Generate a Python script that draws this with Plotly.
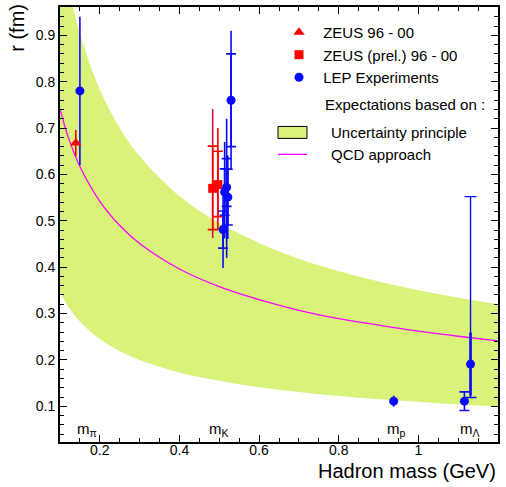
import plotly.graph_objects as go

# ---- expectation curves, sampled in hadron mass (GeV) ----
mass_grid = [0.10, 0.12, 0.15, 0.20, 0.25, 0.30, 0.40, 0.50, 0.60, 0.70, 0.80, 0.90, 1.00, 1.10, 1.20]
band_upper = [1.107, 1.010, 0.904, 0.783, 0.700, 0.639, 0.553, 0.495, 0.452, 0.418, 0.391, 0.369, 0.350, 0.334, 0.320]
band_lower = [0.346, 0.316, 0.283, 0.245, 0.219, 0.200, 0.173, 0.155, 0.141, 0.131, 0.122, 0.115, 0.110, 0.104, 0.100]
qcd_r = [0.741, 0.682, 0.617, 0.542, 0.490, 0.451, 0.396, 0.358, 0.330, 0.307, 0.289, 0.275, 0.262, 0.251, 0.241]

# ---- ZEUS 96-00 (pion) ----
zeus_m = [0.1396]
zeus_r = [0.668]
zeus_err = [0.028]

# ---- ZEUS (prel.) 96-00 (kaon) ----
zprel_m = [0.4835, 0.4965]
zprel_r = [0.570, 0.578]
zprel_stat_up = [0.091, 0.072]
zprel_stat_dn = [0.089, 0.069]
zprel_tot_up = [0.171, 0.122]
zprel_tot_dn = [0.107, 0.098]

# ---- LEP experiments ----
lep_m = [0.150, 0.5095, 0.5135, 0.5185, 0.5215, 0.5296, 0.938, 1.1157, 1.131]
lep_r = [0.780, 0.481, 0.562, 0.572, 0.551, 0.760, 0.111, 0.111, 0.191]
# total errors drawn without end caps
lep_tot_m = [0.150, 0.5095, 0.5135, 0.5185, 0.5215, 0.5296, 0.938]
lep_tot_r = [0.780, 0.481, 0.562, 0.572, 0.551, 0.760, 0.111]
lep_tot_up = [0.160, 0.080, 0.108, 0.148, 0.090, 0.150, 0.012]
lep_tot_dn = [0.160, 0.083, 0.100, 0.152, 0.090, 0.150, 0.012]
# statistical errors with end caps
lep_stat_m = [0.5095, 0.5135, 0.5185, 0.5215, 0.5296, 1.1157]
lep_stat_r = [0.481, 0.562, 0.572, 0.551, 0.760, 0.111]
lep_stat_up = [0.040, 0.050, 0.062, 0.060, 0.100, 0.020]
lep_stat_dn = [0.040, 0.050, 0.041, 0.060, 0.100, 0.020]
# lambda point with asymmetric total error
lam_m = [1.131]
lam_r = [0.191]
lam_tot_up = [0.361]
lam_tot_dn = [0.072]
lam_stat = [0.068]

# ---- mass labels under the points ----
label_text = ["m<sub>π</sub>", "m<sub>K</sub>", "m<sub>p</sub>", "m<sub>Λ</sub>"]
label_m = [0.168, 0.500, 0.946, 1.130]

FONT = "Liberation Sans, Arial, Helvetica, sans-serif"
BAND = "#d8f27a"
BLUE = "#0a0aff"
RED = "#ff0000"
CRIMSON = "#d2103c"
MAGENTA = "#ff00ff"
NB = "\u00a0"

fig = go.Figure()

# uncertainty-principle band
fig.add_trace(go.Scatter(x=mass_grid, y=band_lower, mode="lines", line=dict(width=0, shape="spline", color=BAND),
                         showlegend=False, hoverinfo="skip"))
fig.add_trace(go.Scatter(x=mass_grid, y=band_upper, mode="lines", fill="tonexty", fillcolor=BAND,
                         line=dict(width=0, shape="spline", color=BAND), showlegend=False, hoverinfo="skip"))

# QCD approach
fig.add_trace(go.Scatter(x=mass_grid, y=qcd_r, mode="lines", line=dict(color=MAGENTA, width=1.3, shape="spline"),
                         showlegend=False, hoverinfo="skip"))


def err_trace(x, y, up, dn, color, thick, cap):
    return go.Scatter(x=x, y=y, mode="markers", marker=dict(size=1, color="rgba(0,0,0,0)"),
                      error_y=dict(type="data", symmetric=False, array=up, arrayminus=dn,
                                   color=color, thickness=thick, width=cap),
                      showlegend=False, hoverinfo="skip")


# error bars
fig.add_trace(err_trace(zprel_m[:1], zprel_r[:1], zprel_tot_up[:1], zprel_tot_dn[:1], CRIMSON, 1.6, 0))
fig.add_trace(err_trace(zprel_m[1:], zprel_r[1:], zprel_tot_up[1:], zprel_tot_dn[1:], RED, 1.6, 0))
fig.add_trace(err_trace(zprel_m, zprel_r, zprel_stat_up, zprel_stat_dn, RED, 1.6, 5))
fig.add_trace(err_trace(zeus_m, zeus_r, zeus_err, zeus_err, RED, 1.6, 0))
fig.add_trace(err_trace(lep_tot_m, lep_tot_r, lep_tot_up, lep_tot_dn, BLUE, 1.6, 0))
fig.add_trace(err_trace(lep_stat_m, lep_stat_r, lep_stat_up, lep_stat_dn, BLUE, 1.6, 5))
fig.add_trace(err_trace(lam_m, lam_r, lam_tot_up, lam_tot_dn, BLUE, 1.4, 6))
fig.add_trace(err_trace(lam_m, lam_r, lam_stat, lam_stat, BLUE, 2.6, 0))

# markers (these carry the legend)
fig.add_trace(go.Scatter(x=zeus_m, y=zeus_r, mode="markers", name=NB + "ZEUS 96 - 00",
                         marker=dict(symbol="triangle-up", size=10, color=RED)))
fig.add_trace(go.Scatter(x=zprel_m, y=zprel_r, mode="markers", name=NB + "ZEUS (prel.) 96 - 00",
                         marker=dict(symbol="square", size=9, color=RED)))
fig.add_trace(go.Scatter(x=lep_m, y=lep_r, mode="markers", name=NB + "LEP Experiments",
                         marker=dict(symbol="circle", size=9, color=BLUE)))


def px_x(p):
    return (p - 60) / 438.0


def px_y(p):
    return (442 - p) / 437.0


LEG_FONT = dict(size=15, family=FONT, color="black")

annotations = []
for t, m in zip(label_text, label_m):
    annotations.append(dict(x=m, y=0.050, xref="x", yref="y", text=t, showarrow=False,
                            font=dict(size=15, family=FONT, color="black"), xanchor="center", yanchor="middle"))

# axis titles
annotations.append(dict(x=1.0, y=px_y(471), xref="paper", yref="paper", text="Hadron mass (GeV)", showarrow=False,
                        xanchor="right", yanchor="middle", font=dict(size=20, family=FONT, color="black")))
annotations.append(dict(x=px_x(17), y=1.012, xref="paper", yref="paper", text="r (fm)", showarrow=False,
                        textangle=-90, xanchor="center", yanchor="top", font=dict(size=20, family=FONT, color="black")))

# expectations block of the legend
annotations.append(dict(x=px_x(323), y=px_y(103), xref="paper", yref="paper", text="Expectations based on :",
                        showarrow=False, xanchor="left", yanchor="middle", font=LEG_FONT))
annotations.append(dict(x=px_x(329), y=px_y(131), xref="paper", yref="paper", text="Uncertainty principle",
                        showarrow=False, xanchor="left", yanchor="middle", font=LEG_FONT))
annotations.append(dict(x=px_x(329), y=px_y(153), xref="paper", yref="paper", text="QCD approach",
                        showarrow=False, xanchor="left", yanchor="middle", font=LEG_FONT))

shapes = [
    dict(type="rect", xref="paper", yref="paper", x0=px_x(278), x1=px_x(307), y0=px_y(137), y1=px_y(125),
         fillcolor=BAND, line=dict(color="black", width=1)),
    dict(type="line", xref="paper", yref="paper", x0=px_x(278), x1=px_x(307), y0=px_y(153), y1=px_y(153),
         line=dict(color=MAGENTA, width=1.3)),
]

axis_common = dict(showline=True, linecolor="black", linewidth=2, mirror="allticks", ticks="inside",
                   ticklen=7, tickwidth=1.3, tickcolor="black", showgrid=False, zeroline=False,
                   tickfont=dict(size=14, family=FONT, color="black"))

fig.update_layout(
    width=506, height=487,
    margin=dict(l=60, r=8, t=5, b=45),
    paper_bgcolor="white", plot_bgcolor="white",
    font=dict(family=FONT, color="black"),
    xaxis=dict(range=[0.1, 1.2], tickvals=[0.2, 0.4, 0.6, 0.8, 1.0, 1.2],
               ticktext=["0.2", "0.4", "0.6", "0.8", "1", "1.2"], ticklabelstandoff=-6,
               minor=dict(dtick=0.05, tick0=0.1, ticks="inside", ticklen=4, tickcolor="black", tickwidth=1.1),
               **axis_common),
    yaxis=dict(range=[0.023, 0.961], tickvals=[0.1, 0.2, 0.3, 0.4, 0.5, 0.6, 0.7, 0.8, 0.9],
               ticktext=["0.1", "0.2", "0.3", "0.4", "0.5", "0.6", "0.7", "0.8", "0.9"],
               minor=dict(dtick=0.02, tick0=0.0, ticks="inside", ticklen=4, tickcolor="black", tickwidth=1.1),
               **axis_common),
    legend=dict(x=px_x(279), y=px_y(14), xanchor="left", yanchor="top", bgcolor="rgba(0,0,0,0)",
                font=LEG_FONT, borderwidth=0, itemwidth=30, tracegroupgap=0, traceorder="normal"),
    annotations=annotations,
    shapes=shapes,
)

fig.write_html("out.html")
